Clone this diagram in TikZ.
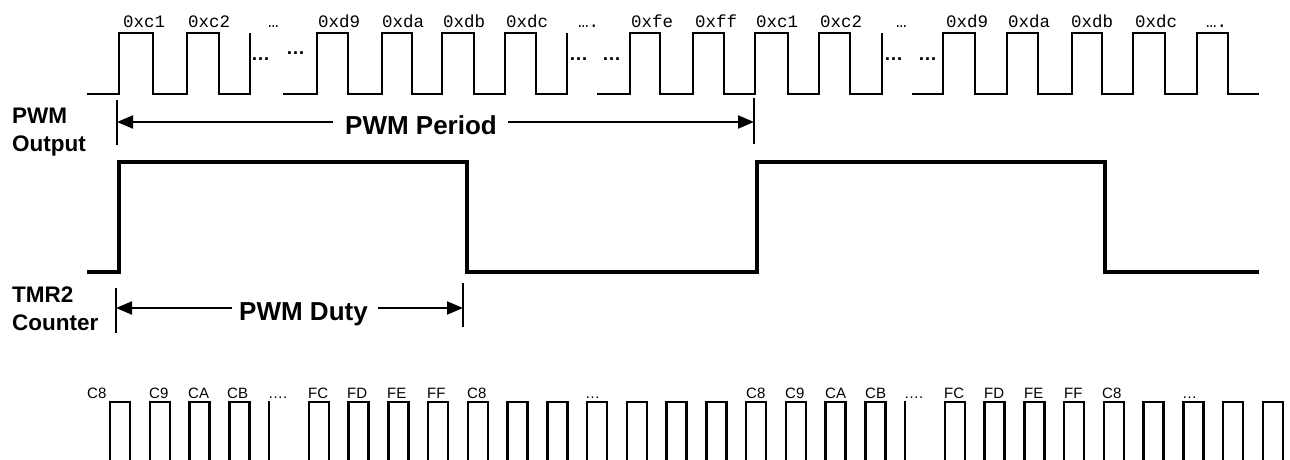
\documentclass[tikz,border=0pt]{standalone}
\usepackage{fontspec}
\setmainfont{Liberation Sans}
\newfontfamily\monof{Liberation Mono}
\usetikzlibrary{arrows.meta}
\begin{document}
\begin{tikzpicture}[x=1pt,y=-1pt,
  clk/.style={line width=2pt, line join=miter},
  pwm/.style={line width=3.5pt, line join=miter},
  cnt/.style={line width=2.5pt, line join=miter},
  bar/.style={line width=2.5pt},
  dimarrow/.style={line width=2pt, -{Triangle[length=16pt,width=13pt]}},
  hexlbl/.style={inner sep=0pt, anchor=base west, font=\monof\fontsize{17.5}{20}\selectfont},
  cntlbl/.style={inner sep=0pt, anchor=base west, font=\fontsize{15}{18}\selectfont},
  side/.style={inner sep=0pt, anchor=base west, font=\bfseries\fontsize{22.5}{26}\selectfont},
  big/.style={inner sep=0pt, anchor=base, font=\bfseries\fontsize{26}{30}\selectfont},
  gapdots/.style={inner sep=0pt, anchor=base west, font=\bfseries\fontsize{19}{24}\selectfont}]
\useasboundingbox (0,0) rectangle (1290,460);

% ---- top clock ----
\draw[clk] (87,94) -| (119,33) -| (153,94) -| (187,33) -| (219,94) -| (250,33);
\draw[clk] (283,94) -| (317,33) -| (348,94) -| (382,33) -| (412,94) -| (442,33) -| (474,94) -| (505,33) -| (536,94) -| (567,33);
\draw[clk] (597,94) -| (630,33) -| (660,94) -| (693,33) -| (724,94) -| (755,33) -| (788,94) -| (819,33) -| (850,94) -| (882,33);
\draw[clk] (912,94) -| (943,33) -| (975,94) -| (1007,33) -| (1038,94) -| (1072,33) -| (1102,94) -| (1133,33) -| (1165,94) -| (1197,33) -| (1228,94) -- (1259,94);

\node[gapdots] (g1a) at (251,60) {…};
\node[gapdots] (g1b) at (286,55) {…};
\node[gapdots] (g2a) at (569,60) {…};
\node[gapdots] (g2b) at (602,60) {…};
\node[gapdots] (g3a) at (884,60) {…};
\node[gapdots] (g3b) at (918,60) {…};

% hex labels
\node[hexlbl] (h1) at (123,28) {0xc1};
\node[hexlbl] (h2) at (188,28) {0xc2};
\node[hexlbl] (h3) at (268,28) {…};
\node[hexlbl] (h4) at (318,28) {0xd9};
\node[hexlbl] (h5) at (382,28) {0xda};
\node[hexlbl] (h6) at (443,28) {0xdb};
\node[hexlbl] (h7) at (506,28) {0xdc};
\node[hexlbl] (h8) at (578,28) {….};
\node[hexlbl] (h9) at (631,28) {0xfe};
\node[hexlbl] (h10) at (695,28) {0xff};
\node[hexlbl] (h11) at (756,28) {0xc1};
\node[hexlbl] (h12) at (820,28) {0xc2};
\node[hexlbl] (h13) at (896,28) {…};
\node[hexlbl] (h14) at (946,28) {0xd9};
\node[hexlbl] (h15) at (1008,28) {0xda};
\node[hexlbl] (h16) at (1071,28) {0xdb};
\node[hexlbl] (h17) at (1135,28) {0xdc};
\node[hexlbl] (h18) at (1206,28) {….};

% ---- side labels ----
\node[side] (l1) at (12,123) {PWM};
\node[side] (l2) at (12,151) {Output};
\node[side] (l3) at (12,302) {TMR2};
\node[side] (l4) at (12,330) {Counter};

% ---- PWM period ----
\draw[bar] (117,100) -- (117,145);
\draw[bar] (754,98) -- (754,144);
\coordinate (pl) at (117,122);
\coordinate (pr) at (754,122);
\node[big] (pp) at (421,134) {PWM Period};
\draw[dimarrow] (333,122) -- (pl);
\draw[dimarrow] (508,122) -- (pr);

% ---- PWM waveform ----
\draw[pwm] (87,272) -| (119,162) -| (467,272) -| (757,162) -| (1105,272) -- (1259,272);

% ---- PWM duty ----
\draw[bar] (116,288) -- (116,333);
\draw[bar] (463,283) -- (463,327);
\coordinate (dl) at (116,308);
\coordinate (dr) at (463,308);
\node[big] (pd) at (303.5,320) {PWM Duty};
\draw[dimarrow] (232,308) -- (dl);
\draw[dimarrow] (378,308) -- (dr);

% ---- counter pulses ----
\foreach \k in {0,1,2,3,5,6,7,8,9,10,11,12,13,14,15,16,17,18,19,21,22,23,24,25,26,27,28,29}{
  \draw[cnt] ({110+39.75*\k},461) -- ({110+39.75*\k},402) -- ({130+39.75*\k},402) -- ({130+39.75*\k},461);
}
\draw[cnt] ({110+39.75*4},461) -- ({110+39.75*4},401);
\draw[cnt] ({110+39.75*20},461) -- ({110+39.75*20},401);

\node[cntlbl] (c1) at (87,398) {C8};
\node[cntlbl] (c2) at (149,398) {C9};
\node[cntlbl] (c3) at (188,398) {CA};
\node[cntlbl] (c4) at (227,398) {CB};
\node[cntlbl] (c5) at (268,398) {….};
\node[cntlbl] (c6) at (308,398) {FC};
\node[cntlbl] (c7) at (347,398) {FD};
\node[cntlbl] (c8) at (387,398) {FE};
\node[cntlbl] (c9) at (427,398) {FF};
\node[cntlbl] (c10) at (467,398) {C8};
\node[cntlbl] (c11) at (585,398) {…};
\node[cntlbl] (c12) at (746,398) {C8};
\node[cntlbl] (c13) at (785,398) {C9};
\node[cntlbl] (c14) at (825,398) {CA};
\node[cntlbl] (c15) at (865,398) {CB};
\node[cntlbl] (c16) at (904,398) {….};
\node[cntlbl] (c17) at (944,398) {FC};
\node[cntlbl] (c18) at (984,398) {FD};
\node[cntlbl] (c19) at (1024,398) {FE};
\node[cntlbl] (c20) at (1064,398) {FF};
\node[cntlbl] (c21) at (1102,398) {C8};
\node[cntlbl] (c22) at (1182,398) {…};
\end{tikzpicture}
\end{document}
